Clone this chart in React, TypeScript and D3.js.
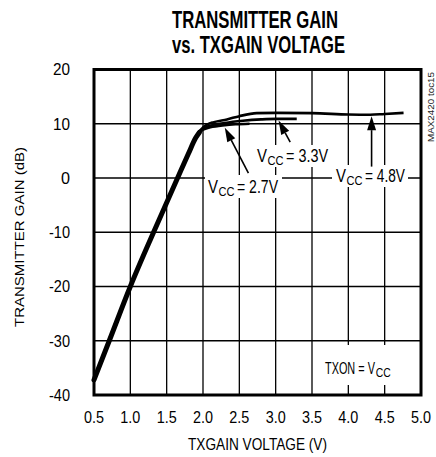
import React from "react";
import * as d3 from "d3";

const xTicks = [0.5, 1.0, 1.5, 2.0, 2.5, 3.0, 3.5, 4.0, 4.5, 5.0];
const yTicks = [-40, -30, -20, -10, 0, 10, 20];

// shared rising portion (all supply voltages overlap)
const riseV = [0.5, 0.71, 1.0, 1.32, 1.65, 1.8, 1.9, 1.95];
const riseDb = [-37.2, -30, -20, -10, 0, 4.5, 7.4, 8.4];

const v27V = [1.8, 1.9, 1.95, 2.0, 2.1, 2.3, 2.45, 2.64];
const v27Db = [4.5, 7.4, 8.4, 8.9, 9.35, 9.75, 9.9, 10.0];

const v33V = [1.8, 1.9, 1.95, 2.0, 2.1, 2.3, 2.55, 2.8, 3.0, 3.29];
const v33Db = [4.5, 7.4, 8.5, 9.1, 9.65, 10.15, 10.55, 10.8, 10.9, 10.9];

const v48V = [1.8, 1.9, 1.95, 2.0, 2.05, 2.15, 2.33, 2.5, 2.74, 3.0, 3.5, 4.0, 4.3, 4.5, 4.76];
const v48Db = [4.5, 7.4, 8.6, 9.3, 9.8, 10.3, 10.8, 11.4, 11.95, 12.0, 11.95, 11.7, 11.65, 11.8, 12.0];

const seriesLabels = ["2.7V", "3.3V", "4.8V"];

const FONT = "'Liberation Sans', Arial, Helvetica, sans-serif";

const x = d3.scaleLinear().domain([0.5, 5.0]).range([94, 421]);
const y = d3.scaleLinear().domain([-40, 20]).range([395, 69.5]);

const line = d3
  .line<[number, number]>()
  .x((d) => x(d[0]))
  .y((d) => y(d[1]))
  .curve(d3.curveMonotoneX);

const zip = (a: number[], b: number[]): [number, number][] => a.map((v, i) => [v, b[i]]);

function Arrow({ tip, tail }: { tip: [number, number]; tail: [number, number] }) {
  const tx = x(tip[0]);
  const ty = y(tip[1]);
  const sx = x(tail[0]);
  const sy = y(tail[1]);
  const dx = sx - tx;
  const dy = sy - ty;
  const len = Math.sqrt(dx * dx + dy * dy);
  const ux = dx / len;
  const uy = dy / len;
  const hl = 14;
  const hw = 4.5;
  const bx = tx + ux * hl;
  const by = ty + uy * hl;
  const p = `M${tx},${ty} L${bx - uy * hw},${by + ux * hw} L${bx + uy * hw},${by - ux * hw} Z`;
  return (
    <g>
      <line x1={sx} y1={sy} x2={bx} y2={by} stroke="#000" strokeWidth={1.6} />
      <path d={p} fill="#000" />
    </g>
  );
}

function VccLabel({ x0, base, val, len }: { x0: number; base: number; val: string; len: number }) {
  return (
    <g fontFamily={FONT}>
      <text x={x0} y={base} fontSize={18} textLength={10} lengthAdjust="spacingAndGlyphs">V</text>
      <text x={x0 + 10.5} y={base + 3} fontSize={13.5} textLength={16} lengthAdjust="spacingAndGlyphs">CC</text>
      <text x={x0 + 29} y={base} fontSize={18} textLength={len - 29} lengthAdjust="spacingAndGlyphs">{`= ${val}`}</text>
    </g>
  );
}

export default function App() {
  const riseData = zip(riseV, riseDb);
  const curves = [zip(v27V, v27Db), zip(v33V, v33Db), zip(v48V, v48Db)];

  return (
    <svg
      width={436}
      height={457}
      style={{ position: "absolute", left: 0, top: 0, background: "#fff" }}
      fontFamily={FONT}
    >
      <rect x={0} y={0} width={436} height={457} fill="#fff" />
      {/* Title */}
      <text x={255} y={28} textAnchor="middle" fontSize={23} fontWeight="bold" textLength={166} lengthAdjust="spacingAndGlyphs">
        TRANSMITTER GAIN
      </text>
      <text x={258.5} y={53} textAnchor="middle" fontSize={23} fontWeight="bold" textLength={173} lengthAdjust="spacingAndGlyphs">
        vs. TXGAIN VOLTAGE
      </text>

      {/* grid */}
      {xTicks.map((t) => (
        <line key={"gx" + t} x1={x(t)} x2={x(t)} y1={y(-40)} y2={y(20)} stroke="#000" strokeWidth={1.3} />
      ))}
      {yTicks.map((t) => (
        <line key={"gy" + t} x1={x(0.5)} x2={x(5)} y1={y(t)} y2={y(t)} stroke="#000" strokeWidth={1.3} />
      ))}

      {/* label backgrounds */}
      <rect x={205} y={175} width={77} height={23} fill="#fff" />
      <rect x={254} y={145} width={77} height={22} fill="#fff" />
      <rect x={332} y={165} width={76} height={22} fill="#fff" />
      <rect x={318} y={345} width={80} height={40} fill="#fff" />

      {/* frame */}
      <rect x={x(0.5)} y={y(20)} width={x(5) - x(0.5)} height={y(-40) - y(20)} fill="none" stroke="#000" strokeWidth={3} />

      {/* curves */}
      <path d={line(riseData) || ""} fill="none" stroke="#000" strokeWidth={5} strokeLinejoin="round" strokeLinecap="round" />
      {curves.map((c, i) => (
        <path key={seriesLabels[i]} d={line(c) || ""} fill="none" stroke="#000" strokeWidth={2.6} strokeLinejoin="round" />
      ))}

      {/* annotations */}
      <VccLabel x0={208} base={192.5} val={seriesLabels[0]} len={70} />
      <VccLabel x0={257} base={162} val={seriesLabels[1]} len={71} />
      <VccLabel x0={336} base={181.5} val={seriesLabels[2]} len={69} />
      <Arrow tip={[2.3, 9.25]} tail={[2.625, 0.9]} />
      <Arrow tip={[3.04, 10.6]} tail={[3.2, 6.6]} />
      <Arrow tip={[4.32, 11.4]} tail={[4.32, 2.1]} />

      <g transform="translate(325,373.5) scale(0.66,1)">
        <text x={0} y={0} fontSize={16.5}>TXON = V</text>
      </g>
      <g transform="translate(375.8,377) scale(0.8,1)">
        <text x={0} y={0} fontSize={13}>CC</text>
      </g>

      {/* y tick labels */}
      {yTicks.map((t) => (
        <text key={"yl" + t} x={70} y={y(t)} dy="0.36em" textAnchor="end" fontSize={16}
          textLength={t < 0 ? 21 : t === 0 ? 9 : 17} lengthAdjust="spacingAndGlyphs">
          {t}
        </text>
      ))}
      {/* x tick labels */}
      {xTicks.map((t) => (
        <text key={"xl" + t} x={x(t)} y={423} textAnchor="middle" fontSize={16} textLength={20} lengthAdjust="spacingAndGlyphs">
          {t.toFixed(1)}
        </text>
      ))}

      {/* axis titles */}
      <text x={257.5} y={449.5} textAnchor="middle" fontSize={16} textLength={139} lengthAdjust="spacingAndGlyphs">
        TXGAIN VOLTAGE (V)
      </text>
      <text transform="translate(23.5,237) rotate(-90)" textAnchor="middle" fontSize={13.5} textLength={180} lengthAdjust="spacingAndGlyphs">
        TRANSMITTER GAIN (dB)
      </text>

      {/* side code */}
      <text transform="translate(433.5,107) rotate(-90)" textAnchor="middle" fontSize={9} textLength={70} lengthAdjust="spacingAndGlyphs" fill="#222">
        MAX2420 toc15
      </text>
    </svg>
  );
}
